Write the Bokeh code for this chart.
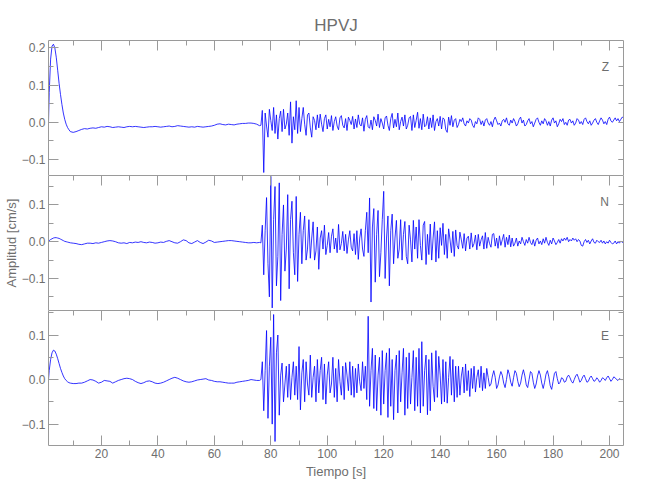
import numpy as np
from bokeh.plotting import figure
from bokeh.models import Range1d, FixedTicker, LinearAxis, Label
from bokeh.layouts import column
from bokeh.embed import file_html
from bokeh.resources import INLINE

FONT = "Liberation Sans"
TXT = "#6e6e6e"
AX = "#9a9a9a"
BLUE = "#0000ff"

# ---------------- data (amplitudes in 1e-3 cm/s) ----------------
t_pre_head = [1.25, 1.5, 2.0, 2.5, 3.0, 3.5, 4.0, 4.5, 5.0, 5.5, 6.0, 6.5, 7.0, 7.5, 8.0, 8.5, 9.0]
t_pre = t_pre_head + list(np.arange(10, 77, 1.0))          # pre-event samples
t_coda = list(np.arange(76.5, 205.01, 0.5))                # strong-motion samples
time_s = t_pre + t_coda

z_pre = [0, 80, 170, 205, 210, 200, 175, 140, 105, 75, 48, 25, 8, -5, -14, -20, -25,
         -27, -25, -22, -19, -17, -18, -16, -15, -16, -14,
         -12, -13, -11, -12, -14, -13, -12, -13, -14, -12,
         -11, -12, -11, -12, -13, -14, -13, -12, -12, -11,
         -12, -13, -12, -11, -10, -12, -11, -9, -10, -11,
         -12, -13, -12, -13, -11, -12, -13, -12, -11, -10,
         -8, -5, -4, -6, -7, -5, -6, -7, -5, -4,
         -3, -3, -2, -2, -3, -5, -9]
z_coda = [-8, 32, -135, 25, -10, -40, 35, 5, -22, 40,
          -30, 20, -45, 10, 30, -25, 35, -18, -5, 25,
          -35, 55, -56, 15, -20, 58, -30, 40, -25, 10,
          40, -5, -35, 20, 25, -15, -40, 15, 5, -20,
          20, -15, 22, -5, -25, 10, 20, -18, 8, -12,
          18, -22, 2, 15, -10, -20, 12, 18, -8, -15,
          10, -22, 14, 5, -6, 16, -18, 9, -14, 20,
          -5, -10, 12, -24, 8, 18, -12, -16, 6, -20,
          15, 5, -10, 22, -14, 10, -2, -18, 12, 17,
          -8, -22, 10, 24, -15, 8, -12, 25, -20, 2,
          14, -10, 20, -18, -8, 12, 16, -22, 20, -14,
          5, 27, -16, 10, -20, 22, -12, -8, 15, -18,
          12, -14, 20, -22, 2, 10, -10, 16, -18, 12,
          8, -20, -27, 14, -8, 18, -12, 6, 10, -14,
          -6, 8, 2, 12, -4, -10, 4, -2, 10, 6,
          -8, -14, 2, -4, 12, 8, -6, 4, -10, 6,
          10, -2, -8, 2, -12, 6, 14, 4, -6, -2,
          -10, 4, 8, 0, 12, -4, -8, 6, -2, 10,
          2, -10, -4, 8, 14, -2, 6, -10, -6, 4,
          10, -4, 2, -12, -2, 8, 12, 0, -8, 4,
          -4, 10, 4, -8, 2, -10, 6, 12, -2, 4,
          -12, -4, 8, 2, 10, -6, 0, -8, 6, 8,
          -2, 4, -8, -2, 10, 6, -4, 2, -6, 8,
          12, 2, -4, 4, -8, -2, 6, 10, 0, -6,
          4, 12, 6, -4, 2, -6, 8, 14, 4, 0,
          6, 12, 4, 10, 2, 8, 14, 12]

n_pre = [0, 3, 6, 8, 10, 11, 11, 10, 9, 7, 5, 3, 1, 0, -1, -2, -3,
         -4, -5, -7, -8, -6, -4, -4, -5, -3, -4,
         -2, 0, 2, 3, 2, 0, -3, -4, -3, -5,
         -2, -3, -1, -2, 0, -2, -3, -1, -2, -4,
         -3, -1, -2, 1, 3, 0, -3, -4, 0, 5,
         3, -3, -5, -1, 3, -2, -5, -1, 4, 2,
         -2, -1, 0, 1, 2, 3, 3, 2, 1, 0,
         -1, -2, -3, -3, -2, -3, -2]
n_coda = [-3, 45, -90, 30, 120, -60, -150, 178, -180, 60,
          150, -120, -40, 160, -160, 20, 100, -80, -20, 128,
          -128, 60, 110, -30, -90, 123, -108, 20, 80, -60,
          30, 70, -50, -20, 60, -45, 10, 54, -50, -25,
          40, -75, 10, 30, -20, 45, -35, -10, 25, -30,
          15, 35, -20, 10, -30, 47, -22, -5, 28, -25,
          20, -32, 5, 30, -15, -25, 22, -35, 30, -48,
          10, 35, -20, -40, 30, 80, -30, 119, -164, 40,
          90, -110, 20, 85, -95, -30, 60, 137, -100, 10,
          70, -120, 30, 75, -60, 10, 58, -45, -20, 60,
          -50, 20, 55, -40, -60, 45, 5, -55, 58, -20,
          40, -45, 60, -10, -50, 45, 55, -62, 20, -35,
          48, -50, 10, 54, -55, 30, -45, 38, -10, 50,
          -35, 20, -45, 35, 5, -30, 28, -40, 32, -10,
          -20, 26, 5, -18, 22, -25, 10, 15, -20, 24,
          -15, -5, 18, -22, 20, -12, 5, 16, -20, 25,
          -18, 12, -5, -15, 20, 22, -12, 10, -18, 16,
          -10, 5, 20, -15, 12, -8, 18, -14, 10, -12,
          -4, 10, -12, 2, -6, 12, 0, -10, 6, -4,
          12, -2, -8, 6, -12, 4, 10, -6, 2, -8,
          8, -4, 12, -2, -10, 4, -6, 10, 2, -8,
          -2, 6, -4, 8, 2, 10, 4, 12, 0, 6,
          2, 10, 4, 8, 0, 6, 2, -10, -12, 0,
          6, -2, 4, -6, 2, 8, -2, -4, 4, 0,
          -2, 4, -4, 2, -6, 0, -4, 4, -2, -6,
          -4, 2, -6, 0, -4, 2, -2, 0]

e_pre = [0, 20, 45, 60, 66, 64, 57, 47, 36, 25, 16, 8, 2, -2, -5, -7, -8,
         -9, -9, -8, -8, -6, -3, 0, -1, -4, -8,
         -6, -2, -3, -4, -8, -5, -2, 0, 2, 3,
         2, 0, -4, -7, -9, -7, -4, -3, -5, -8,
         -9, -8, -6, -3, 0, 3, 5, 3, 0, -3,
         -5, -6, -5, -3, -1, 0, 1, 2, -1, -2,
         -4, -5, -5, -6, -7, -8, -8, -8, -6, -5,
         -4, -3, -2, 0, -1, -2, -2]
e_coda = [0, 40, -70, 20, 110, -87, 30, 95, -100, 146,
          -139, 60, 100, -80, 10, 37, -50, -10, 30, -40,
          35, -45, 5, 40, -35, 30, -45, 74, -68, 15,
          45, -50, 40, -10, -35, 55, -40, 5, 30, -50,
          45, -30, 20, 50, -45, 35, -55, 10, 40, -30,
          -10, 50, -40, 25, -50, 45, -5, -35, 30, -45,
          38, 10, -25, 40, -35, 30, -40, 25, -30, 35,
          -5, -25, 40, -20, 30, -45, 142, -60, 20, 70,
          -65, 55, -70, 10, 50, -80, 65, -55, 20, 60,
          -85, 70, -60, 45, -90, 20, 55, -75, 65, -50,
          15, 70, -80, 50, -65, 60, -55, 5, 65, -70,
          50, -60, 70, -75, 85, -60, 20, 55, -79, 45,
          -70, 60, -15, -50, 65, -40, 52, 10, -55, 45,
          -50, 40, -53, 5, 52, -35, 45, -50, 30, -40,
          30, -35, 8, 28, -30, 35, -25, 20, -38, 25,
          -20, 30, -28, 5, 22, -18, 30, -25, 15, -20,
          25, 5, -15, -10, 8, 20, 5, -20, -12, 6,
          18, 10, -8, -18, 0, 22, 12, -6, -15, 4,
          20, 14, -4, -16, -8, 10, 22, 8, -12, -18,
          0, 18, 14, -6, -20, -10, 8, 20, 10, -8,
          -20, -6, 12, 20, 6, -14, -22, -4, 14, 18,
          2, -10, -6, 4, 2, -6, -4, 6, 10, 4,
          -4, -8, 0, 8, 12, 4, -6, -2, 6, 10,
          2, -6, -4, 4, 8, 2, -4, -2, 4, 0,
          -6, -2, 4, 2, -2, 4, 8, 2, -4, 0,
          6, 4, 0, -2, 2, 0, 0, 0]

components = ["Z", "N", "E"]
series = {"Z": z_pre + z_coda, "N": n_pre + n_coda, "E": e_pre + e_coda}
y_ranges = {"Z": (-0.143, 0.22), "N": (-0.187, 0.18), "E": (-0.148, 0.155)}
y_ticks = {"Z": [-0.1, 0.0, 0.1, 0.2], "N": [-0.1, 0.0, 0.1], "E": [-0.1, 0.0, 0.1]}
y_minor = [-0.15, -0.1, -0.05, 0.0, 0.05, 0.1, 0.15, 0.2]
tick_text = {0.2: "0.2", 0.1: "0.1", 0.0: "0.0", -0.1: "\u22120.1"}
comp_label_y = {"Z": 0.149, "N": 0.109, "E": 0.097}
x_ticks = [20, 40, 60, 80, 100, 120, 140, 160, 180, 200]
x_minor = [10, 30, 50, 70, 90, 110, 130, 150, 170, 190]
x_range = (1.25, 204.95)
title_text = "HPVJ"
y_label_text = "Amplitud [cm/s]"
x_label_text = "Tiempo [s]"


def style_axis(ax, tick_in, minor_in, show_labels):
    ax.major_tick_in = tick_in
    ax.major_tick_out = 0
    ax.minor_tick_in = minor_in
    ax.minor_tick_out = 0
    ax.axis_line_color = AX
    ax.major_tick_line_color = AX
    ax.minor_tick_line_color = AX
    ax.major_label_text_font = FONT
    if show_labels:
        ax.major_label_text_color = TXT
        ax.major_label_text_font_size = "12px"
        ax.major_label_standoff = 3
    else:
        ax.major_label_text_color = None
        ax.major_label_text_font_size = "0px"
        ax.major_label_standoff = 0


figs = []
for i, comp in enumerate(components):
    first = i == 0
    last = i == len(components) - 1
    p = figure(frame_width=575, frame_height=135,
               x_range=Range1d(*x_range), y_range=Range1d(*y_ranges[comp]),
               x_axis_location=None, y_axis_location=None,
               output_backend="svg", toolbar_location=None,
               min_border_left=48, min_border_right=20,
               min_border_top=40 if first else 0,
               min_border_bottom=0)
    p.outline_line_color = None
    p.background_fill_color = "white"
    p.border_fill_color = "white"
    p.xgrid.grid_line_color = None
    p.ygrid.grid_line_color = None

    vals = np.array(series[comp], dtype=float) / 1000.0
    p.line(time_s, vals, line_color=BLUE, line_width=0.8)

    left = LinearAxis(ticker=FixedTicker(ticks=y_ticks[comp], minor_ticks=y_minor),
                      major_label_overrides={k: v for k, v in tick_text.items() if k in y_ticks[comp]})
    style_axis(left, 10, 5, True)
    if i == 1:
        left.axis_label = y_label_text
        left.axis_label_text_font = FONT
        left.axis_label_text_font_size = "13px"
        left.axis_label_text_font_style = "normal"
        left.axis_label_text_color = TXT
        left.axis_label_standoff = 0
    p.add_layout(left, "left")

    right = LinearAxis(ticker=FixedTicker(ticks=y_ticks[comp], minor_ticks=y_minor))
    style_axis(right, 5, 5, False)
    p.add_layout(right, "right")

    top = LinearAxis(ticker=FixedTicker(ticks=x_ticks, minor_ticks=x_minor))
    style_axis(top, 10, 5, False)
    p.add_layout(top, "above")

    if last:
        bottom = LinearAxis(ticker=FixedTicker(ticks=x_ticks, minor_ticks=x_minor),
                            axis_label=x_label_text)
        style_axis(bottom, 10, 5, True)
        bottom.axis_label_text_font = FONT
        bottom.axis_label_text_font_size = "13px"
        bottom.axis_label_text_font_style = "normal"
        bottom.axis_label_text_color = TXT
        bottom.axis_label_standoff = 3
        p.add_layout(bottom, "below")
        p.min_border_bottom = 30

    p.add_layout(Label(x=199.8, y=comp_label_y[comp], text=comp,
                       text_align="right", text_baseline="alphabetic",
                       text_font=FONT, text_font_size="12px", text_color=TXT))

    if first:
        p.title.text = title_text
        p.title.align = "center"
        p.title.text_font = FONT
        p.title.text_font_size = "17px"
        p.title.text_font_style = "normal"
        p.title.text_color = TXT
        p.title.standoff = 11
    figs.append(p)

layout = column(*figs, spacing=0)
open("out.html", "w").write(file_html(layout, INLINE))
